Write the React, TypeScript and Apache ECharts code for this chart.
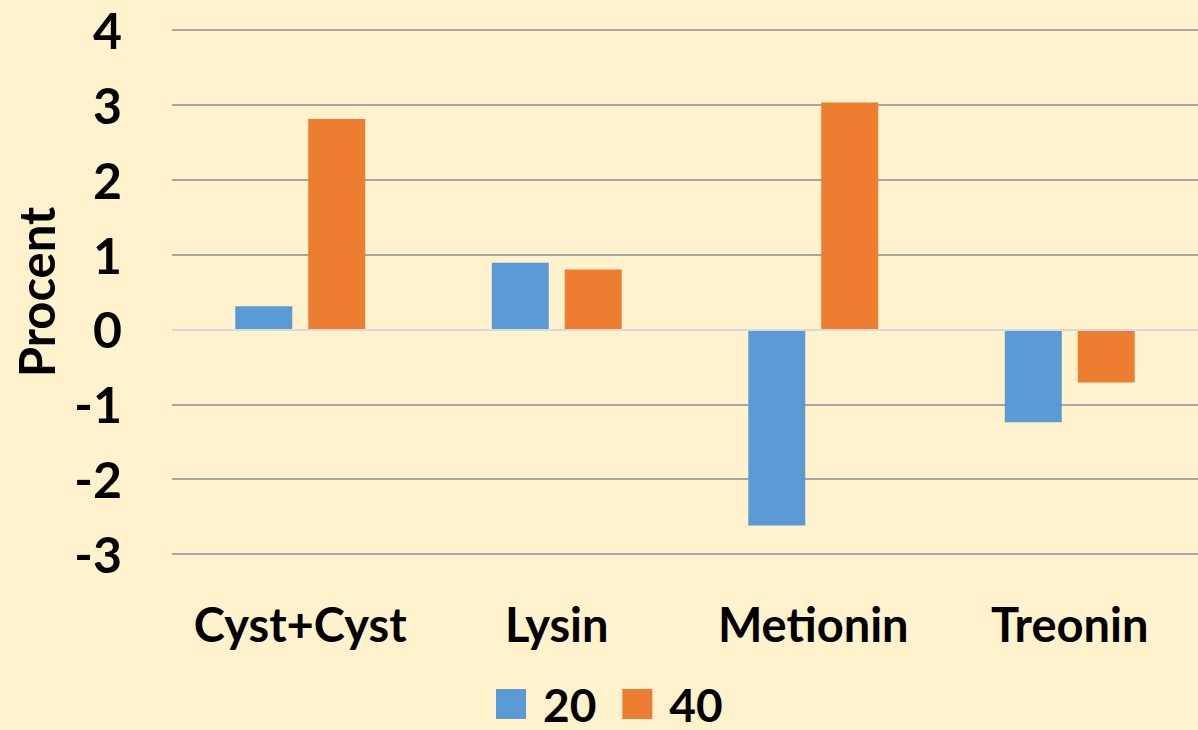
import React, { useEffect, useRef } from "react";
import * as echarts from "echarts";

const categories = ["Cyst+Cyst", "Lysin", "Metionin", "Treonin"];
const series20 = [0.31, 0.89, -2.62, -1.24];
const series40 = [2.81, 0.8, 3.03, -0.71];
const seriesNames = ["20", "40"];

const FONT = "Lato";

export default function App() {
  const ref = useRef<HTMLDivElement>(null);
  useEffect(() => {
    document.body.style.margin = "0";
    const chart = echarts.init(ref.current!, null, { renderer: "svg" });
    chart.setOption({
      animation: false,
      backgroundColor: "#FFF2CC",
      textStyle: { fontFamily: FONT },
      grid: { left: 172, right: -5, top: 30, bottom: 176, containLabel: false },
      legend: {
        data: seriesNames,
        top: 681,
        left: 496,
        padding: 0,
        itemWidth: 30,
        itemHeight: 30,
        itemGap: 26,
        icon: "rect",
        textStyle: { fontSize: 46, lineHeight: 38, fontWeight: "bold", color: "#000", fontFamily: FONT, padding: [0, 0, 0, 12] },
      },
      xAxis: {
        type: "category",
        data: categories,
        axisLine: { show: false },
        axisTick: { show: false },
        axisLabel: { interval: 0, fontSize: 47, fontWeight: "bold", color: "#000", margin: 46, fontFamily: FONT },
      },
      yAxis: {
        type: "value",
        min: -3,
        max: 4,
        interval: 1,
        name: "Procent",
        nameLocation: "middle",
        nameGap: 112,
        nameRotate: 90,
        nameTextStyle: { fontSize: 49, fontWeight: "bold", color: "#000", fontFamily: FONT },
        axisLine: { show: false },
        axisTick: { show: false },
        axisLabel: { fontSize: 50, fontWeight: "bold", color: "#000", margin: 50, fontFamily: FONT },
        splitLine: { lineStyle: { color: "#A6A6A6", width: 2 } },
      },
      series: [
        {
          name: seriesNames[0],
          type: "bar",
          data: series20,
          barWidth: 57,
          barGap: "28%",
          itemStyle: { color: "#5B9BD5" },
        },
        {
          name: seriesNames[1],
          type: "bar",
          data: series40,
          barWidth: 57,
          itemStyle: { color: "#ED7D31" },
          markLine: {
            silent: true,
            symbol: "none",
            label: { show: false },
            lineStyle: { color: "#D9D9D9", width: 2, type: "solid" },
            data: [{ yAxis: 0 }],
          },
        },
      ],
    });
    return () => chart.dispose();
  }, []);
  return <div ref={ref} style={{ position: "absolute", left: 0, top: 0, width: 1198, height: 730 }} />;
}
